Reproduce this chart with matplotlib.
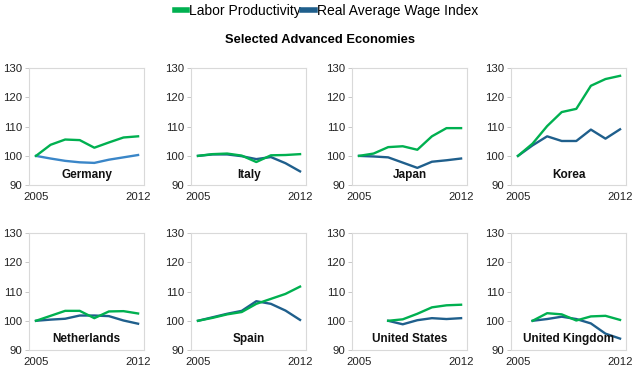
import matplotlib.pyplot as plt
from matplotlib.lines import Line2D

plt.rcParams['font.family'] = ['Liberation Sans', 'DejaVu Sans']

YEARS = [2005, 2006, 2007, 2008, 2009, 2010, 2011, 2012]

countries = ['Germany', 'Italy', 'Japan', 'Korea',
             'Netherlands', 'Spain', 'United States', 'United Kingdom']

# first year of data for each country
start_year = [2005, 2005, 2005, 2005, 2005, 2005, 2007, 2006]

productivity = [
    [100, 103.8, 105.6, 105.4, 102.8, 104.6, 106.3, 106.7],
    [100, 100.6, 100.8, 100.1, 97.9, 100.2, 100.3, 100.6],
    [100, 100.8, 103.0, 103.3, 102.1, 106.7, 109.5, 109.5],
    [100, 104.2, 110.2, 115.0, 116.1, 124.0, 126.3, 127.4],
    [100, 101.7, 103.4, 103.4, 100.9, 103.2, 103.3, 102.5],
    [100, 101.0, 102.2, 103.0, 105.8, 107.5, 109.2, 111.7],
    [100, 100.5, 102.4, 104.6, 105.3, 105.5],
    [100, 102.6, 102.2, 100.1, 101.5, 101.7, 100.3],
]

wages = [
    [100, 99.1, 98.3, 97.8, 97.6, 98.7, 99.5, 100.3],
    [100, 100.5, 100.5, 99.9, 98.9, 99.6, 97.5, 94.7],
    [100, 99.8, 99.5, 97.7, 95.9, 98.0, 98.5, 99.1],
    [100, 103.6, 106.7, 105.1, 105.1, 109.0, 105.9, 109.1],
    [100, 100.4, 100.7, 101.8, 101.8, 101.6, 100.1, 99.0],
    [100, 101.2, 102.4, 103.4, 106.7, 105.8, 103.5, 100.3],
    [100, 98.8, 100.2, 100.9, 100.6, 100.9],
    [100, 100.6, 101.4, 100.6, 99.1, 95.6, 93.9],
]

GREEN = '#00b050'
BLUE = '#1f5f8c'
BLUE_LIGHT = '#3a86c8'

fig = plt.figure(figsize=(6.4, 3.77), dpi=100)

lefts = [0.0453, 0.2984, 0.55, 0.7984]
bottoms = [0.509, 0.0716]
w, h = 0.18, 0.31

for i, name in enumerate(countries):
    ax = fig.add_axes([lefts[i % 4], bottoms[i // 4], w, h])
    yrs = [y for y in YEARS if y >= start_year[i]]
    blue = BLUE_LIGHT if name == 'Germany' else BLUE
    ax.plot(yrs, wages[i], color=blue, lw=1.7, solid_joinstyle='round')
    ax.plot(yrs, productivity[i], color=GREEN, lw=1.7, solid_joinstyle='round')
    ax.set_xlim(2004.52, 2012.42)
    ax.set_ylim(90, 130)
    ax.set_yticks([90, 100, 110, 120, 130])
    ax.set_xticks([2005, 2012])
    ax.tick_params(axis='y', length=3, width=0.6, color='#bfbfbf',
                   labelsize=8.2, labelcolor='#222222', pad=2)
    ax.tick_params(axis='x', length=0, labelsize=8.2, labelcolor='#222222', pad=5)
    for s in ax.spines.values():
        s.set_color('#d9d9d9')
        s.set_linewidth(0.8)
    ax.text(sum(ax.get_xlim()) / 2, 93.6, name, ha='center', va='center',
            fontsize=8.5, fontweight='bold', color='#111111')

fig.text(0.5, 0.893, 'Selected Advanced Economies', ha='center', va='center',
         fontsize=9.3, fontweight='bold')

handles = [Line2D([], [], color=GREEN, lw=4),
           Line2D([], [], color=BLUE, lw=4)]
fig.legend(handles, ['Labor Productivity', 'Real Average Wage Index'],
           loc='center', bbox_to_anchor=(0.51, 0.972), ncol=2, frameon=False,
           fontsize=10, handlelength=0.9, handletextpad=0.15, columnspacing=0.1,
           borderpad=0)

fig.savefig('out.png', dpi=100)
